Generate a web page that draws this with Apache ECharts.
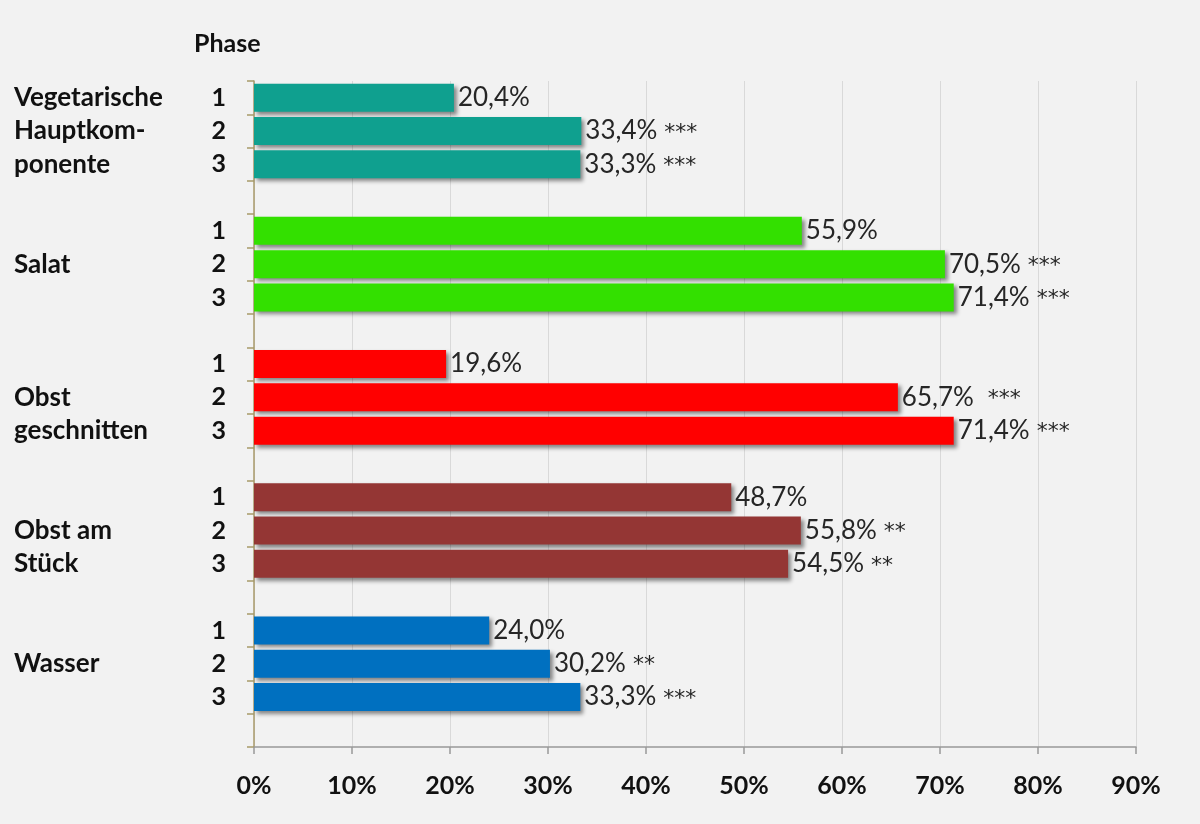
<!DOCTYPE html>
<html>
<head>
<meta charset="utf-8">
<script src="https://cdn.jsdelivr.net/npm/echarts@6/dist/echarts.min.js"></script>
<style>html,body{margin:0;padding:0;background:#f2f2f2;}#c{width:1200px;height:824px;}</style>
</head>
<body>
<div id="c"></div>
<script>
// ---- data ----
var groupNames = ['Vegetarische Hauptkomponente', 'Salat', 'Obst geschnitten', 'Obst am Stück', 'Wasser'];
var groupLabelLines = [
  ['Vegetarische', 'Hauptkom-', 'ponente'],
  ['', 'Salat', ''],
  ['', 'Obst', 'geschnitten'],
  ['', 'Obst am', 'Stück'],
  ['', 'Wasser', '']
];
var phases = ['1', '2', '3'];
var vegetarisch = [20.4, 33.4, 33.3];
var salat = [55.9, 70.5, 71.4];
var obstGeschnitten = [19.6, 65.7, 71.4];
var obstAmStueck = [48.7, 55.8, 54.5];
var wasser = [24.0, 30.2, 33.3];
var sigVegetarisch = ['', ' ***', ' ***'];
var sigSalat = ['', ' ***', ' ***'];
var sigObstGeschnitten = ['', '  ***', ' ***'];
var sigObstAmStueck = ['', ' **', ' **'];
var sigWasser = ['', ' **', ' ***'];
var xTicks = [0, 10, 20, 30, 40, 50, 60, 70, 80, 90];
var colors = ['#0fa08f', '#33e000', '#ff0000', '#943634', '#0070c0'];

var groupValues = [vegetarisch, salat, obstGeschnitten, obstAmStueck, wasser];
var groupSig = [sigVegetarisch, sigSalat, sigObstGeschnitten, sigObstAmStueck, sigWasser];

// build slot categories: 3 phases + 1 gap per group
var cats = [], nameCats = [], seriesData = [];
groupValues.forEach(function (vals, g) {
  phases.forEach(function (p, i) {
    cats.push(p);
    nameCats.push(groupLabelLines[g][i]);
    seriesData.push({
      value: vals[i],
      sig: groupSig[g][i],
      itemStyle: { color: colors[g] }
    });
  });
  cats.push('');
  nameCats.push('');
  seriesData.push(null);
});

var FONT = 'Lato';
var chart = echarts.init(document.getElementById('c'));
chart.setOption({
  backgroundColor: '#f2f2f2',
  title: {
    text: 'Phase', left: 189, top: 26,
    textStyle: { fontFamily: FONT, fontWeight: 'bold', fontSize: 25, color: '#111' }
  },
  grid: { left: 254, right: 64, top: 81, bottom: 77 },
  xAxis: {
    type: 'value', min: 0, max: 90, interval: 10,
    axisLine: { show: true, lineStyle: { color: '#999', width: 1.5 } },
    axisTick: { show: true, length: 7, lineStyle: { color: '#999', width: 1.5 } },
    splitLine: { show: true, lineStyle: { color: '#d9d9d9', width: 1 } },
    axisLabel: {
      margin: 26, fontFamily: FONT, fontWeight: 'bold', fontSize: 25, color: '#111',
      formatter: function (v) { return xTicks.indexOf(v) >= 0 ? v + '%' : ''; }
    }
  },
  yAxis: [{
    type: 'category', data: cats, inverse: true,
    axisLine: { show: true, lineStyle: { color: '#a89a6a', width: 1.5 } },
    axisTick: { show: true, interval: 0, length: 7, lineStyle: { color: '#a89a6a', width: 1.5 } },
    axisLabel: { interval: 0, margin: 28, fontFamily: FONT, fontWeight: 'bold', fontSize: 25, color: '#111' }
  }, {
    type: 'category', data: nameCats, inverse: true, position: 'left',
    axisLine: { show: false }, axisTick: { show: false },
    axisLabel: { interval: 0, margin: 240, align: 'left', fontFamily: FONT, fontWeight: 'bold', fontSize: 26, color: '#111' }
  }],
  series: [{
    type: 'bar', yAxisIndex: 0, data: seriesData, barWidth: '84%',
    itemStyle: {
      shadowColor: 'rgba(0,0,0,0.45)', shadowBlur: 4, shadowOffsetX: 3, shadowOffsetY: 3
    },
    label: {
      show: true, position: 'right', distance: 4,
      fontFamily: FONT, fontSize: 26, color: '#262626',
      formatter: function (p) {
        var s = p.value.toFixed(1).replace('.', ',') + '%';
        return p.data.sig ? s + '{s|' + p.data.sig + '}' : s;
      },
      rich: {
        s: { fontFamily: 'DejaVu Sans', fontSize: 22, color: '#262626', padding: [4, 0, 0, 0] }
      }
    },
    animation: false
  }]
});
</script>
</body>
</html>
